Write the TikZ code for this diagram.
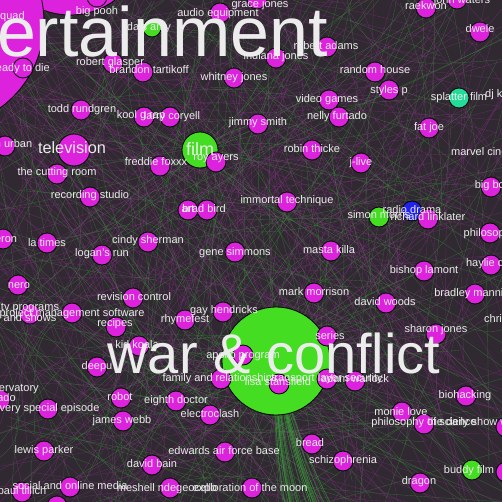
\documentclass[tikz,border=0pt]{standalone}
\usepackage{fontspec}
\setmainfont{Liberation Sans}
\definecolor{bg}{RGB}{48,41,49}
\definecolor{mag}{RGB}{221,34,221}
\definecolor{grn}{RGB}{68,221,34}
\definecolor{tea}{RGB}{34,221,153}
\definecolor{blu}{RGB}{34,34,238}
\definecolor{txt}{RGB}{236,236,236}
\definecolor{epur}{RGB}{150,50,150}
\definecolor{egrn}{RGB}{60,160,60}
\pgfdeclarelayer{bgl}
\pgfdeclarelayer{edgel}
\pgfsetlayers{bgl,edgel,main}
\tikzset{
 vert/.style={circle, draw=black, line width=0.8pt, minimum size=20pt, inner sep=0pt, fill=mag},
 lbl/.style={text=txt, font=\fontsize{11}{11}\selectfont, inner sep=0pt, text height=8pt, text depth=2.4pt, align=center},
 hub/.style={text=txt, inner sep=0pt},
 edg/.style={line width=0.35pt, opacity=0.45},
}
\begin{document}
\begin{tikzpicture}[x=1pt,y=-1pt]
\useasboundingbox (0,0) rectangle (502,502);
\clip (0,0) rectangle (502,502);
\begin{pgfonlayer}{bgl}
\fill[bg] (0,0) rectangle (502,502);
\pgfmathsetseed{7}
\foreach \i in {1,...,560}{
 \pgfmathsetmacro\xa{rnd*640-70}
 \pgfmathsetmacro\ya{rnd*640-70}
 \pgfmathsetmacro\xb{rnd*640-70}
 \pgfmathsetmacro\yb{rnd*640-70}
 \pgfmathsetmacro\xc{(\xa+\xb)/2+rnd*140-70}
 \pgfmathsetmacro\yc{(\ya+\yb)/2+rnd*140-70}
 \pgfmathtruncatemacro\k{mod(\i,5)}
 \ifnum\k<3
  \draw[edg,epur] (\xa,\ya) .. controls (\xc,\yc) .. (\xb,\yb);
 \else
  \draw[edg,egrn] (\xa,\ya) .. controls (\xc,\yc) .. (\xb,\yb);
 \fi
}
\end{pgfonlayer}

% hubs
\node[vert, minimum size=150pt] (topblob) at (70,-60) {};
\node[vert, minimum size=212pt] (ent) at (-62,22) {};
\node[vert] (bigpooh) at (97,-3) {};
\node[vert, fill=grn, minimum size=108pt] (war) at (276,361) {};
\node[vert, fill=grn, minimum size=36pt] (film) at (200,150) {};
\node[vert, minimum size=32pt] (tv) at (74,150) {};

% small nodes
\node[vert, fill=grn, minimum size=18pt] (dais) at (152,28) {};
\node[vert] (ready) at (23,68) {};
\node[vert] (glasper) at (113,63) {};
\node[vert] (tartikoff) at (143,72) {};
\node[vert] (todd) at (81,110) {};
\node[vert] (koolg) at (144,117) {};
\node[vert] (coryell) at (170,117) {};
\node[vert] (urban) at (5,146) {};
\node[vert] (freddie) at (160,166) {};
\node[vert] (royayers) at (216,162) {};
\node[vert] (grace) at (257,-1) {};
\node[vert] (audio) at (220,13) {};
\node[vert] (robadams) at (327,47) {};
\node[vert] (indiana) at (276,58) {};
\node[vert] (whitney) at (234,78) {};
\node[vert] (video) at (329,100) {};
\node[vert] (nelly) at (339,117) {};
\node[vert] (jimmy) at (258,124) {};
\node[vert] (robin) at (312,150) {};
\node[vert] (jlive) at (361,163) {};
\node[vert] (raekwon) at (426,8) {};
\node[vert] (waters) at (457,-1) {};
\node[vert] (dwele) at (480,32) {};
\node[vert] (random) at (375,72) {};
\node[vert] (styles) at (389,90) {};
\node[vert, fill=tea] (splatter) at (459,98) {};
\node[vert] (fatjoe) at (429,128) {};
\node[vert] (cutting) at (57,174) {};
\node[vert] (recording) at (90,197) {};
\node[vert] (heron) at (3,239) {};
\node[vert] (latimes) at (47,243) {};
\node[vert] (cindy) at (148,242) {};
\node[vert] (logan) at (102,255) {};
\node[vert] (nero) at (18,285) {};
\node[vert] (revision) at (133,298) {};
\node[vert] (shows) at (30,314) {};
\node[vert] (pms) at (72,313) {};
\node[vert] (recipes) at (116,327) {};
\node[vert] (art) at (188,210) {};
\node[vert] (bradbird) at (207,210) {};
\node[vert] (immortal) at (287,202) {};
\node[vert] (gene) at (235,252) {};
\node[vert] (masta) at (331,251) {};
\node[vert] (mark) at (314,293) {};
\node[vert] (gay) at (223,312) {};
\node[vert] (rhymefest) at (185,320) {};
\node[vert] (bigboi) at (491,187) {};
\node[vert, fill=blu] (radio) at (412,211) {};
\node[vert, fill=grn] (simon) at (379,217) {};
\node[vert] (linklater) at (428,219) {};
\node[vert] (philo) at (490,233) {};
\node[vert] (haylie) at (491,265) {};
\node[vert] (bishop) at (424,271) {};
\node[vert] (bradley) at (475,294) {};
\node[vert] (davidwoods) at (386,303) {};
\node[vert] (sharon) at (436,334) {};
\node[vert] (series) at (327,336) {};
\node[vert] (kidkoala) at (139,346) {};
\node[vert] (deepu) at (97,367) {};
\node[vert] (tornado) at (0,400) {};
\node[vert] (verysp) at (48,409) {};
\node[vert] (robot) at (121,398) {};
\node[vert] (jameswebb) at (123,421) {};
\node[vert] (lewis) at (44,451) {};
\node[vert] (davidbain) at (152,465) {};
\node[vert] (social) at (70,487) {};
\node[vert] (tillich) at (22,492) {};
\node[vert] (bottom) at (57,506) {};
\node[vert] (meshell) at (170,488) {};
\node[vert] (explor) at (252,488) {};
\node[vert] (apollo) at (243,355) {};
\node[vert] (family) at (221,379) {};
\node[vert] (lisa) at (279,384) {};
\node[vert] (tls) at (327,379) {};
\node[vert] (adam) at (355,381) {};
\node[vert] (eighth) at (176,401) {};
\node[vert] (electro) at (210,415) {};
\node[vert] (edwards) at (225,452) {};
\node[vert] (bread) at (312,444) {};
\node[vert] (schizo) at (343,461) {};
\node[vert] (biohack) at (466,396) {};
\node[vert] (monie) at (402,412) {};
\node[vert] (phsci) at (424,424) {};
\node[vert] (daily) at (506,427) {};
\node[vert, fill=grn] (buddy) at (472,470) {};
\node[vert] (otwell) at (506,472) {};
\node[vert] (dragon) at (420,483) {};

% named edges
\begin{pgfonlayer}{edgel}
\foreach \t in {apollo,family,lisa,tls,adam,series,gay,rhymefest,mark,masta,gene,immortal,electro,eighth,bread,edwards,schizo,film,kidkoala,deepu,davidwoods,monie,robot,jameswebb,davidbain,meshell,explor,dragon,buddy,sharon,bishop,simon,linklater,cindy,revision,recipes}
  \draw[edg,egrn] (war) to[bend left=8] (\t);
\pgfmathsetseed{11}
\foreach \k in {1,...,45}{
  \pgfmathsetmacro\bx{282+rnd*55}
  \coordinate (bt\k) at (\bx,510);
  \draw[edg,egrn,opacity=0.6] (war) to[bend right=4] (bt\k);
}
\foreach \t in {ready,glasper,tartikoff,todd,koolg,tv,cutting,recording,urban,heron,latimes,nero,logan,audio,grace,indiana,whitney,dais,freddie,coryell,shows,pms}
  \draw[edg,epur] (ent) to[bend right=10] (\t);
\foreach \t in {royayers,freddie,coryell,jimmy,robin,whitney,art,bradbird,splatter,buddy,simon,gene}
  \draw[edg,egrn] (film) to[bend left=10] (\t);
\end{pgfonlayer}

% labels
\node[lbl] at (0,17) [anchor=west] {quad};
\node[lbl] at (97,12) {big pooh};
\node[lbl] at (149,28) {dais amy};
\node[lbl] at (21,69) {ready to die};
\node[lbl] at (110,63) {robert glasper};
\node[lbl] at (149,71) {brandon tartikoff};
\node[lbl] at (82,110) {todd rundgren};
\node[lbl] at (141,116) {kool g rap};
\node[lbl] at (172,117) {larry coryell};
\node[lbl] at (5,145) {keith urban};
\node[lbl] at (156,163) {freddie foxxx};
\node[lbl] at (216,158) {roy ayers};
\node[lbl] at (260,5) {grace jones};
\node[lbl] at (218,14) {audio equipment};
\node[lbl] at (326,47) {robert adams};
\node[lbl] at (276,57) {indiana jones};
\node[lbl] at (234,78) {whitney jones};
\node[lbl] at (327,100) {video games};
\node[lbl] at (337,117) {nelly furtado};
\node[lbl] at (258,123) {jimmy smith};
\node[lbl] at (312,150) {robin thicke};
\node[lbl] at (361,163) {j-live};
\node[lbl] at (426,7) {raekwon};
\node[lbl] at (462,1) {john waters};
\node[lbl] at (480,30) {dwele};
\node[lbl] at (375,71) {random house};
\node[lbl] at (389,91) {styles p};
\node[lbl] at (459,98) {splatter film};
\node[lbl,anchor=west] at (485,95) {dj k};
\node[lbl] at (429,128) {fat joe};
\node[lbl,anchor=west] at (451,153) {marvel cinematic universe};
\node[lbl] at (57,173) {the cutting room};
\node[lbl] at (90,196) {recording studio};
\node[lbl] at (3,240) {heron};
\node[lbl] at (47,244) {la times};
\node[lbl] at (148,241) {cindy sherman};
\node[lbl] at (102,254) {logan's run};
\node[lbl] at (19,286) {nero};
\node[lbl] at (134,298) {revision control};
\node[lbl] at (30,319) {tv programs\\and shows};
\node[lbl] at (72,314) {project management software};
\node[lbl] at (115,324) {recipes};
\node[lbl] at (188,210) {art};
\node[lbl] at (204,210) {brad bird};
\node[lbl] at (287,201) {immortal technique};
\node[lbl] at (235,253) {gene simmons};
\node[lbl] at (329,251) {masta killa};
\node[lbl] at (314,293) {mark morrison};
\node[lbl] at (224,311) {gay hendricks};
\node[lbl] at (185,320) {rhymefest};
\node[lbl] at (491,186) {big boi};
\node[lbl] at (412,211) {radio drama};
\node[lbl] at (379,216) {simon morris};
\node[lbl] at (428,218) {richard linklater};
\node[lbl] at (490,234) {philosophy};
\node[lbl] at (491,264) {haylie duff};
\node[lbl] at (424,271) {bishop lamont};
\node[lbl] at (475,294) {bradley manning};
\node[lbl] at (385,303) {david woods};
\node[lbl,anchor=west] at (484,320) {chris};
\node[lbl] at (436,330) {sharon jones};
\node[lbl] at (330,337) {series};
\node[lbl] at (137,346) {kid koala};
\node[lbl] at (97,367) {deepu};
\node[lbl] at (10,389) {observatory};
\node[lbl] at (-3,399) {tornado};
\node[lbl] at (45,409) {a very special episode};
\node[lbl] at (120,398) {robot};
\node[lbl] at (122,421) {james webb};
\node[lbl] at (44,451) {lewis parker};
\node[lbl] at (152,465) {david bain};
\node[lbl] at (70,487) {social and online media};
\node[lbl] at (22,492) {paul tillich};
\node[lbl] at (167,489) {meshell ndegeocello};
\node[lbl] at (250,489) {exploration of the moon};
\node[lbl] at (243,356) {apollo program};
\node[lbl] at (220,379) {family and relationships};
\node[lbl] at (278,383) {lisa stansfield};
\node[lbl] at (327,379) {transport layer security};
\node[lbl] at (355,380) {adam warlock};
\node[lbl] at (176,401) {eighth doctor};
\node[lbl] at (210,415) {electroclash};
\node[lbl] at (224,452) {edwards air force base};
\node[lbl] at (310,444) {bread};
\node[lbl] at (343,461) {schizophrenia};
\node[lbl] at (465,396) {biohacking};
\node[lbl] at (401,413) {monie love};
\node[lbl] at (424,423) {philosophy of science};
\node[lbl] at (502,423) {the daily show with jon stewart};
\node[lbl] at (469,471) {buddy film};
\node[lbl] at (419,482) {dragon};

% hub labels
\node[hub, font=\fontsize{16.3}{16}\selectfont, anchor=base] at (72,154) {television};
\node[hub, font=\fontsize{18}{18}\selectfont, anchor=base] at (200,156) {film};
\node[hub, font=\fontsize{70}{70}\selectfont, anchor=base east] at (328,57) {entertainment};
\node[hub, font=\fontsize{56}{56}\selectfont, anchor=base] at (274,373) {war \& conflict};
\end{tikzpicture}
\end{document}
